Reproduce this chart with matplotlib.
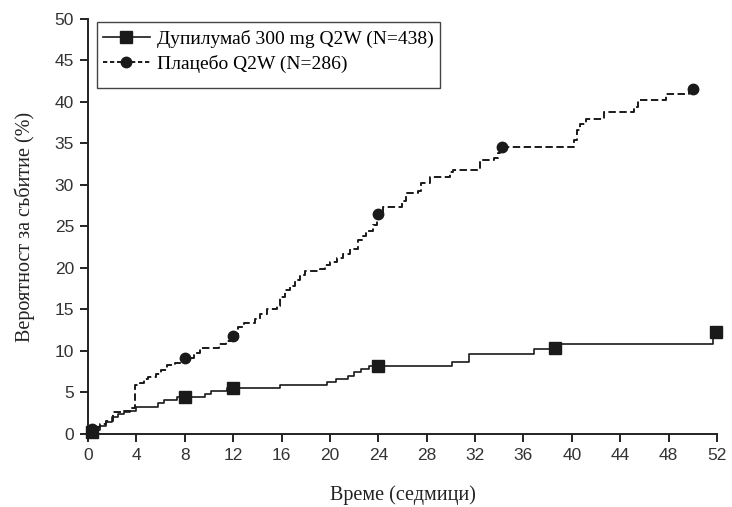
import matplotlib
matplotlib.use("Agg")
import matplotlib.pyplot as plt
from matplotlib.lines import Line2D
from matplotlib.patches import Rectangle

# Kaplan-Meier style cumulative event curves (week, % after step)
dupi_weeks = [0, 0.5, 1.0, 1.5, 2.0, 2.5, 3.0, 3.5, 4.0, 5.8, 6.3, 7.4, 9.7, 10.2,
              11.5, 15.9, 19.8, 20.5, 21.5, 22.0, 22.6, 23.2, 30.1, 31.5, 36.9,
              39.1, 51.7, 52.0]
dupi_pct = [0.2, 0.5, 1.0, 1.5, 2.0, 2.4, 2.6, 2.8, 3.2, 3.7, 4.1, 4.5, 4.8, 5.2,
            5.6, 5.9, 6.3, 6.6, 7.0, 7.5, 7.8, 8.2, 8.7, 9.6, 10.2,
            10.9, 12.3, 12.3]
dupi_mark_weeks = [0.3, 8.0, 12.0, 24.0, 38.6, 51.9]
dupi_mark_pct = [0.2, 4.5, 5.6, 8.2, 10.3, 12.3]

plac_weeks = [0, 0.6, 1.0, 1.5, 2.1, 3.0, 3.6, 3.9, 4.3, 4.6, 5.0, 5.6, 6.0, 6.5,
              7.2, 7.8, 8.8, 9.3, 10.8, 11.4, 11.9, 12.4, 12.9, 13.8, 14.2, 14.8,
              15.6, 15.9, 16.3, 16.7, 17.1, 17.5, 17.9, 19.2, 19.6, 20.0, 20.6,
              21.1, 21.7, 22.3, 22.7, 23.0, 23.6, 23.9, 24.4, 26.0, 26.3, 27.3,
              27.5, 28.3, 29.9, 30.2, 32.4, 33.6, 33.9, 34.1, 40.2, 40.4, 40.7,
              41.2, 42.7, 45.1, 45.5, 47.8, 49.7, 50.0]
plac_pct = [0.5, 0.8, 1.2, 1.6, 2.6, 2.8, 3.1, 5.9, 6.2, 6.6, 6.9, 7.2, 7.7, 8.3,
            8.6, 9.1, 9.7, 10.3, 10.8, 11.2, 11.8, 12.9, 13.4, 13.8, 14.5, 15.0,
            15.4, 16.5, 17.3, 17.8, 18.6, 19.2, 19.6, 19.9, 20.3, 20.7, 21.2,
            21.7, 22.3, 23.4, 23.9, 24.4, 25.2, 26.4, 27.4, 28.1, 29.0, 29.3,
            30.2, 31.0, 31.6, 31.8, 33.0, 33.3, 33.9, 34.6, 35.4, 36.6, 37.4,
            38.0, 38.8, 39.4, 40.2, 41.0, 41.5, 41.6]
plac_mark_weeks = [0.3, 8.0, 12.0, 24.0, 34.2, 50.0]
plac_mark_pct = [0.6, 9.1, 11.8, 26.5, 34.6, 41.6]

x_ticks = list(range(0, 53, 4))
y_ticks = list(range(0, 51, 5))

label_dupi = "Дупилумаб 300 mg Q2W (N=438)"
label_plac = "Плацебо Q2W (N=286)"


def main():
    fig = plt.figure(figsize=(7.32, 5.07), dpi=100)
    ax = fig.add_axes([0.1202, 0.144, 0.8593, 0.8186])

    ax.step(plac_weeks, plac_pct, where="post", color="#1a1a1a",
            linestyle=(0, (3.8, 1.8)), linewidth=1.4)
    ax.plot(plac_mark_weeks, plac_mark_pct, linestyle="none", marker="o",
            markersize=7.5, color="#1a1a1a", clip_on=False, zorder=4)

    ax.step(dupi_weeks, dupi_pct, where="post", color="#1a1a1a", linewidth=1.2)
    ax.plot(dupi_mark_weeks, dupi_mark_pct, linestyle="none", marker="s",
            markersize=8, color="#1a1a1a", clip_on=False, zorder=4)

    ax.set_xlim(0, 52)
    ax.set_ylim(0, 50)
    ax.set_xticks(x_ticks)
    ax.set_yticks(y_ticks)

    for side in ["top", "right"]:
        ax.spines[side].set_visible(False)
    for side in ["left", "bottom"]:
        ax.spines[side].set_linewidth(1.4)
        ax.spines[side].set_color("#222222")

    ax.tick_params(direction="out", length=6, width=1.4, color="#222222",
                   labelsize=12.5, labelcolor="#333333", pad=4)
    for lab in ax.get_xticklabels() + ax.get_yticklabels():
        lab.set_family("Liberation Sans")

    ax.set_xlabel("Време (седмици)", family="Liberation Serif", fontsize=14.5,
                  color="#222222", labelpad=16)
    ax.set_ylabel("Вероятност за събитие (%)", family="Liberation Serif",
                  fontsize=14.5, color="#222222", labelpad=14)

    # legend box is taller than its two rows, so frame drawn separately
    ax.add_patch(Rectangle((0.0143, 0.8337), 0.5453, 0.1591, transform=ax.transAxes,
                           fill=False, edgecolor="#444444", linewidth=1.0,
                           clip_on=False, zorder=5))
    handles = [
        Line2D([], [], color="#1a1a1a", linewidth=1.2, marker="s", markersize=8),
        Line2D([], [], color="#1a1a1a", linewidth=1.4, linestyle=(0, (2.2, 1.4)),
               marker="o", markersize=7.5),
    ]
    ax.legend(handles, [label_dupi, label_plac], loc="upper left",
              bbox_to_anchor=(0.0145, 0.988), frameon=False,
              prop={"family": "Liberation Serif", "size": 14},
              handlelength=2.4, handletextpad=0.4, labelspacing=0.36,
              borderpad=0.3, borderaxespad=0)

    fig.savefig("out.png", dpi=100)
    plt.close(fig)


if __name__ == "__main__":
    main()
